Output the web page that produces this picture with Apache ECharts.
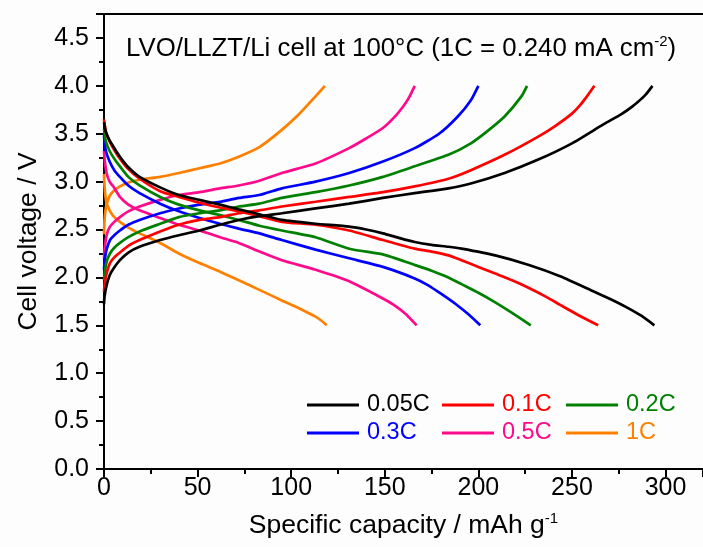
<!DOCTYPE html>
<html>
<head>
<meta charset="utf-8">
<script src="https://cdn.jsdelivr.net/npm/echarts@6/dist/echarts.min.js"></script>
<style>html,body{margin:0;padding:0;background:#fdfdfd;}#c{width:703px;height:547px;}</style>
</head>
<body>
<div id="c"></div>
<script>
// Rates and colours
const rates = ['0.05C', '0.1C', '0.2C', '0.3C', '0.5C', '1C'];
const colors = ['#000000', '#ff0000', '#008000', '#0000ff', '#ff0a8c', '#ff8000'];

// Charge curves (capacity mAh/g, voltage V)
const chg005Cap = [0, 0.3, 1.4, 3, 5, 8.5, 13, 19, 30, 40, 51, 62, 72, 83, 95, 113, 131, 149, 166, 184, 196, 214, 232, 250, 267, 276, 282, 289, 293];
const chg005V   = [1.72, 1.8, 1.92, 2.02, 2.09, 2.18, 2.26, 2.32, 2.39, 2.44, 2.49, 2.55, 2.60, 2.64, 2.67, 2.72, 2.77, 2.83, 2.88, 2.93, 2.98, 3.09, 3.23, 3.40, 3.60, 3.70, 3.78, 3.90, 4.0];
const chg01Cap = [0, 0.5, 1.5, 3.2, 5.5, 8.5, 13, 19, 30, 40, 51, 62, 72, 83, 95, 113, 131, 149, 166, 184, 196, 214, 232, 241, 250, 254, 258, 262];
const chg01V   = [1.85, 1.95, 2.05, 2.15, 2.21, 2.26, 2.33, 2.39, 2.48, 2.55, 2.60, 2.63, 2.67, 2.70, 2.74, 2.79, 2.84, 2.89, 2.95, 3.03, 3.12, 3.28, 3.47, 3.58, 3.71, 3.79, 3.89, 4.0];
const chg02Cap = [0, 0.5, 1.5, 3.2, 5.5, 8.5, 13, 19, 30, 40, 51, 62, 72, 83, 95, 113, 131, 149, 166, 184, 196, 205, 214, 223, 226];
const chg02V   = [1.97, 2.07, 2.17, 2.25, 2.31, 2.36, 2.42, 2.48, 2.56, 2.63, 2.67, 2.70, 2.74, 2.77, 2.83, 2.89, 2.96, 3.05, 3.16, 3.28, 3.40, 3.53, 3.68, 3.89, 4.0];
const chg03Cap = [0, 0.5, 1.5, 3.2, 5.5, 8.5, 13, 19, 30, 40, 51, 62, 72, 83, 95, 113, 131, 149, 166, 179, 189, 196, 200];
const chg03V   = [2.08, 2.2, 2.3, 2.39, 2.44, 2.49, 2.55, 2.60, 2.67, 2.72, 2.76, 2.79, 2.83, 2.86, 2.93, 3.00, 3.09, 3.21, 3.35, 3.50, 3.68, 3.85, 4.0];
const chg05Cap = [0, 0.5, 1.5, 3.2, 5.5, 8.5, 13, 19, 30, 40, 51, 62, 72, 83, 95, 113, 131, 140, 149, 155, 160, 163, 166];
const chg05V   = [2.2, 2.33, 2.45, 2.53, 2.58, 2.63, 2.69, 2.74, 2.81, 2.86, 2.89, 2.93, 2.96, 3.01, 3.09, 3.19, 3.35, 3.45, 3.56, 3.67, 3.79, 3.88, 4.0];
const chg1Cap = [0, 0.3, 0.8, 1.5, 3, 5, 8.5, 13, 19, 30, 40, 51, 62, 72, 83, 95, 104, 113, 118];
const chg1V   = [2.45, 2.6, 2.7, 2.77, 2.85, 2.90, 2.95, 2.99, 3.02, 3.05, 3.09, 3.14, 3.19, 3.26, 3.36, 3.54, 3.70, 3.89, 4.0];

// Discharge curves
const dis005Cap = [0, 1, 3, 5.5, 8.5, 13, 19, 30, 40, 51, 62, 72, 83, 95, 113, 131, 140, 149, 158, 166, 175, 184, 191, 209, 227, 244, 262, 271, 280, 287, 294];
const dis005V   = [3.62, 3.52, 3.43, 3.35, 3.26, 3.15, 3.05, 2.94, 2.86, 2.81, 2.76, 2.71, 2.66, 2.60, 2.56, 2.53, 2.50, 2.46, 2.41, 2.37, 2.34, 2.32, 2.30, 2.23, 2.13, 2.01, 1.85, 1.77, 1.68, 1.60, 1.5];
const dis01Cap = [0, 1, 3, 5.5, 8.5, 13, 19, 30, 40, 51, 62, 72, 83, 95, 113, 131, 149, 166, 175, 184, 191, 200, 209, 218, 227, 236, 244, 254, 264];
const dis01V   = [3.65, 3.52, 3.42, 3.33, 3.24, 3.13, 3.03, 2.90, 2.84, 2.78, 2.73, 2.69, 2.64, 2.58, 2.55, 2.49, 2.39, 2.30, 2.27, 2.23, 2.18, 2.11, 2.04, 1.97, 1.89, 1.80, 1.71, 1.60, 1.50];
const dis02Cap = [0, 1, 3, 5.5, 8.5, 13, 19, 30, 40, 51, 62, 72, 83, 95, 113, 131, 149, 166, 175, 184, 191, 200, 209, 218, 228];
const dis02V   = [3.55, 3.42, 3.32, 3.24, 3.16, 3.05, 2.96, 2.84, 2.76, 2.70, 2.65, 2.60, 2.54, 2.49, 2.42, 2.30, 2.24, 2.13, 2.07, 2.00, 1.93, 1.84, 1.74, 1.63, 1.50];
const dis03Cap = [0, 1, 3, 5.5, 8.5, 13, 19, 30, 40, 51, 62, 72, 83, 95, 113, 131, 149, 166, 173, 180, 188, 195, 201];
const dis03V   = [3.48, 3.32, 3.21, 3.12, 3.05, 2.96, 2.88, 2.77, 2.69, 2.62, 2.56, 2.51, 2.46, 2.39, 2.29, 2.20, 2.11, 1.99, 1.92, 1.83, 1.72, 1.61, 1.50];
const dis05Cap = [0, 0.5, 1.5, 3, 5, 8.5, 13, 19, 30, 40, 51, 62, 72, 83, 95, 113, 131, 149, 155, 161, 167];
const dis05V   = [3.32, 3.2, 3.08, 3.0, 2.95, 2.84, 2.76, 2.70, 2.62, 2.55, 2.49, 2.42, 2.36, 2.27, 2.18, 2.08, 1.96, 1.78, 1.71, 1.62, 1.50];
const dis1Cap = [0, 0.3, 0.8, 1.5, 3, 5, 8.5, 13, 19, 30, 40, 51, 62, 72, 83, 95, 106, 113, 116, 119];
const dis1V   = [3.08, 2.95, 2.84, 2.77, 2.70, 2.64, 2.58, 2.52, 2.46, 2.36, 2.25, 2.15, 2.06, 1.97, 1.87, 1.76, 1.66, 1.59, 1.55, 1.50];

// Axis ticks
const xTicks = [0, 50, 100, 150, 200, 250, 300];
const yTicks = [0.0, 0.5, 1.0, 1.5, 2.0, 2.5, 3.0, 3.5, 4.0, 4.5];

const charge = [[chg005Cap, chg005V], [chg01Cap, chg01V], [chg02Cap, chg02V], [chg03Cap, chg03V], [chg05Cap, chg05V], [chg1Cap, chg1V]];
const discharge = [[dis005Cap, dis005V], [dis01Cap, dis01V], [dis02Cap, dis02V], [dis03Cap, dis03V], [dis05Cap, dis05V], [dis1Cap, dis1V]];

const FONT = 'Liberation Sans, Arial, sans-serif';
const zip = (a, b) => a.map((v, i) => [v, b[i]]);

const series = [];
rates.forEach((r, i) => {
  [charge[i], discharge[i]].forEach(c => {
    series.push({
      name: r, type: 'line', data: zip(c[0], c[1]), showSymbol: false, symbol: 'none',
      smooth: 0.2,
      lineStyle: { color: colors[i], width: 2.7 }, itemStyle: { color: colors[i] },
      xAxisIndex: 0, yAxisIndex: 0, animation: false, z: 10 - i
    });
  });
});

function legendCol(names, left) {
  return {
    orient: 'vertical', left: left, top: 388, itemWidth: 52, itemHeight: 14, itemGap: 4,
    icon: 'path://M0,5.5 L52,5.5 L52,8.5 L0,8.5 Z',
    data: names.map(n => ({ name: n, textStyle: { color: colors[rates.indexOf(n)] } })),
    textStyle: { fontFamily: FONT, fontSize: 23.5, padding: [0, 0, 0, 3] },
    selectedMode: false
  };
}

const chart = echarts.init(document.getElementById('c'), null, { renderer: 'canvas' });
chart.setOption({
  backgroundColor: '#fdfdfd',
  animation: false,
  grid: { left: 104, top: 14, right: -3, bottom: 78, containLabel: false },
  legend: [legendCol(['0.05C', '0.3C'], 302), legendCol(['0.1C', '0.5C'], 437), legendCol(['0.2C', '1C'], 561)],
  graphic: [{
    type: 'text', left: 126, top: 34,
    style: {
      text: '{a|LVO/LLZT/Li cell at 100°C (1C = 0.240 mA cm}{s|-2}{a|)}',
      rich: {
        a: { fontFamily: FONT, fontSize: 25.8, fill: '#000' },
        s: { fontFamily: FONT, fontSize: 15, fill: '#000', verticalAlign: 'top', padding: [0, 0, 14, 0] }
      }
    }
  }],
  xAxis: [{
    type: 'value', min: 0, max: 320, interval: 50, position: 'bottom',
    name: '{a|Specific capacity / mAh g}{s|-1}', nameLocation: 'middle', nameGap: 42,
    nameTextStyle: {
      rich: {
        a: { fontFamily: FONT, fontSize: 26.5, color: '#000' },
        s: { fontFamily: FONT, fontSize: 15, color: '#000', padding: [0, 0, 14, 0] }
      }
    },
    axisLine: { show: true, onZero: false, lineStyle: { color: '#000', width: 2 } },
    axisTick: { show: true, inside: false, length: 8, lineStyle: { color: '#000', width: 2 } },
    minorTick: { show: true, splitNumber: 2, length: 5, lineStyle: { color: '#000', width: 2 } },
    axisLabel: { fontFamily: FONT, fontSize: 25, color: '#000', margin: 7, showMaxLabel: false,
      formatter: v => xTicks.indexOf(v) >= 0 ? String(v) : '' },
    splitLine: { show: false }
  }, {
    type: 'value', min: 0, max: 320, position: 'top',
    axisLine: { show: true, onZero: false, lineStyle: { color: '#000', width: 2 } },
    axisTick: { show: false }, axisLabel: { show: false }, splitLine: { show: false }
  }],
  yAxis: [{
    type: 'value', min: 0, max: 4.75, interval: 0.5,
    name: 'Cell voltage / V', nameLocation: 'middle', nameGap: 62, nameRotate: 90,
    nameTextStyle: { fontFamily: FONT, fontSize: 26.5, color: '#000' },
    axisLine: { show: true, onZero: false, lineStyle: { color: '#000', width: 2 } },
    axisTick: { show: true, inside: false, length: 8, lineStyle: { color: '#000', width: 2 } },
    minorTick: { show: true, splitNumber: 2, length: 5, lineStyle: { color: '#000', width: 2 } },
    axisLabel: { fontFamily: FONT, fontSize: 25, color: '#000', margin: 15, showMaxLabel: false,
      formatter: v => { const t = yTicks.find(y => Math.abs(y - v) < 1e-6); return t === undefined ? '' : t.toFixed(1); } },
    splitLine: { show: false }
  }],
  series: series
});
</script>
</body>
</html>
